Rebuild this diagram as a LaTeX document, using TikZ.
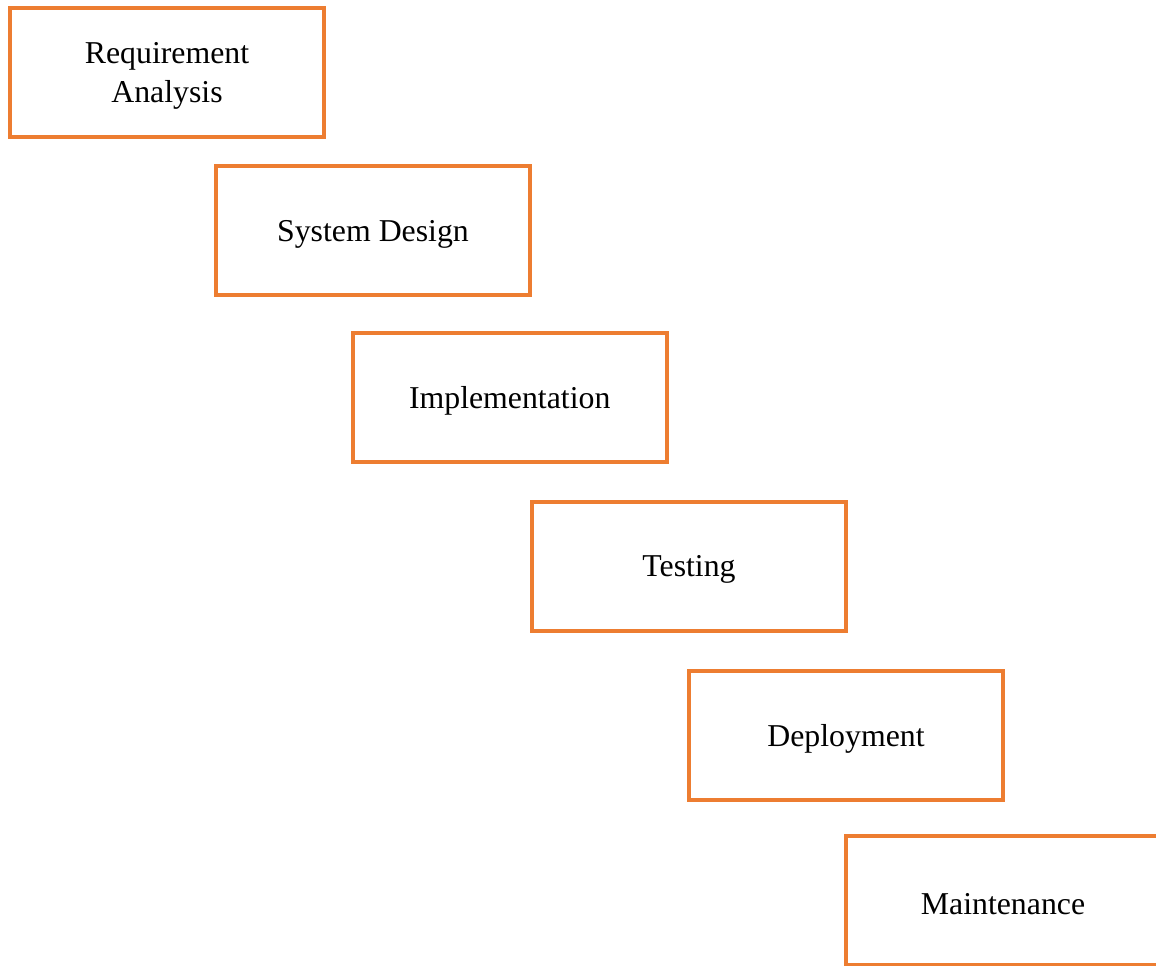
\documentclass[tikz,border=0pt]{standalone}
\usepackage{fontspec}
\setmainfont{Liberation Serif}
\definecolor{boxorange}{HTML}{ED7D31}
\newcommand{\lowtext}[1]{\raisebox{-1.8pt}[\height][\depth]{#1}}
\begin{document}
\begin{tikzpicture}[x=0.5pt,y=-0.5pt,
  phasebox/.style={draw=boxorange, line width=2pt, fill=white,
    minimum width=157pt, minimum height=64.5pt, inner sep=0pt,
    align=center, font=\fontsize{15.9}{19.5}\selectfont}]
\useasboundingbox (0,0) rectangle (1156,965);
\clip (0,0) rectangle (1156,965);
\node[phasebox] (req) at (167,72) {\lowtext{\begin{tabular}{@{}c@{}}Requirement\\Analysis\end{tabular}}};
\node[phasebox] (des) at (373,230.5) {\lowtext{System Design}};
\node[phasebox] (imp) at (509.7,397) {\lowtext{Implementation}};
\node[phasebox] (tst) at (689,566) {\lowtext{Testing}};
\node[phasebox] (dep) at (846,735) {\lowtext{Deployment}};
\node[phasebox] (mnt) at (1003,900.5) {\lowtext{Maintenance}};
\end{tikzpicture}
\end{document}
